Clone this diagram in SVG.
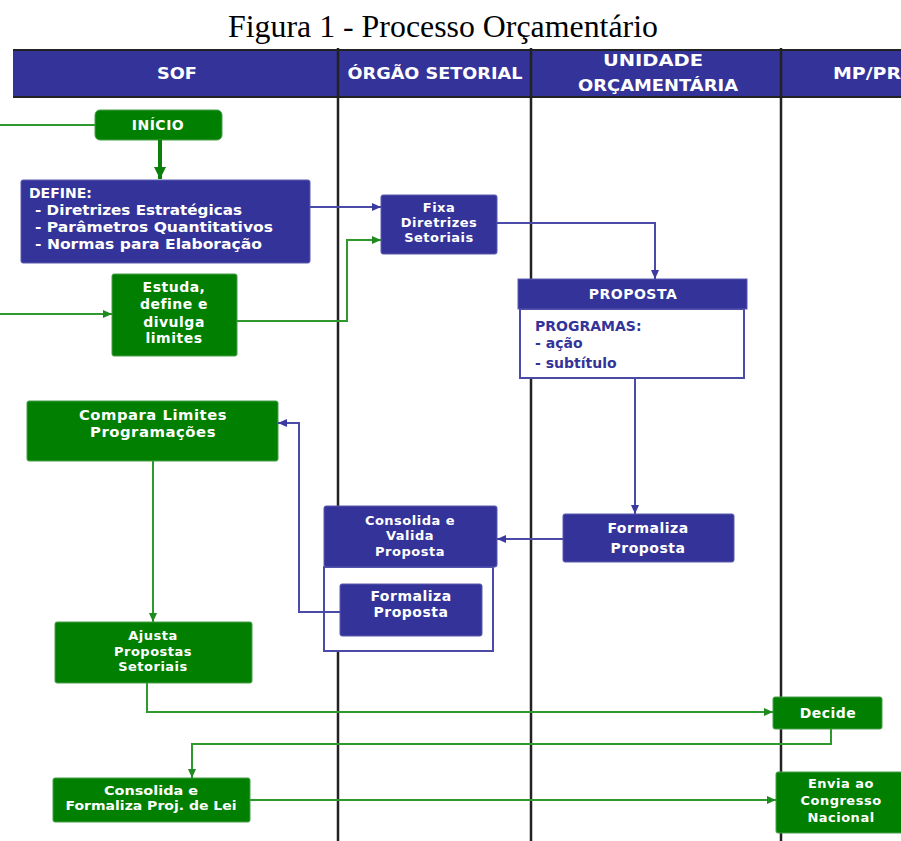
<svg xmlns="http://www.w3.org/2000/svg" width="901" height="841" viewBox="0 0 901 841">
<style>
.title{font-family:"Liberation Serif","Times New Roman",serif;font-size:31px;fill:#000;text-anchor:middle}
.hd{font-family:"DejaVu Sans",Verdana,sans-serif;font-weight:bold;font-size:15px;fill:#fff;text-anchor:middle}
.t{font-family:"DejaVu Sans",Verdana,sans-serif;font-weight:bold;font-size:14px;fill:#fff;text-anchor:middle;letter-spacing:0.5px}
.ts{font-family:"DejaVu Sans",Verdana,sans-serif;font-weight:bold;font-size:13px;fill:#fff;text-anchor:middle;letter-spacing:0.5px}
.tl{font-family:"DejaVu Sans",Verdana,sans-serif;font-weight:bold;font-size:14px;fill:#fff}
.tb{font-family:"DejaVu Sans",Verdana,sans-serif;font-weight:bold;font-size:14px;fill:#333399}
.g{fill:#007f00;stroke:#4aa04a;stroke-width:1}
.b{fill:#333399;stroke:#5b5bb0;stroke-width:1}
.w{fill:#fff;stroke:#4a4aa8;stroke-width:2}
.lane{stroke:#222;stroke-width:2.5}
.cg{fill:none;stroke:#2e9a2e;stroke-width:2}
.cb{fill:none;stroke:#4a4aa8;stroke-width:2}
</style>
<defs>
<marker id="ag" markerUnits="userSpaceOnUse" markerWidth="10" markerHeight="10" refX="9" refY="5" orient="auto"><path d="M0,1 L9,5 L0,9 z" fill="#1f8a1f"/></marker>
<marker id="agb" markerUnits="userSpaceOnUse" markerWidth="14" markerHeight="12" refX="12" refY="6" orient="auto"><path d="M0,0 L12,6 L0,12 z" fill="#0a800a"/></marker>
<marker id="ab" markerUnits="userSpaceOnUse" markerWidth="10" markerHeight="10" refX="9" refY="5" orient="auto"><path d="M0,1 L9,5 L0,9 z" fill="#3a3aa0"/></marker>
</defs>
<rect width="901" height="841" fill="#fff"/>
<text class="title" x="443" y="37" textLength="430" lengthAdjust="spacingAndGlyphs">Figura 1 - Processo Orçamentário</text>

<g id="header">
<rect x="13" y="50" width="888" height="47" fill="#333399"/>
<line x1="13" y1="50" x2="901" y2="50" stroke="#222" stroke-width="2"/>
<line x1="13" y1="97" x2="901" y2="97" stroke="#222" stroke-width="2"/>
<text class="hd" x="177" y="79" textLength="40" lengthAdjust="spacingAndGlyphs">SOF</text>
<text class="hd" x="435" y="79" textLength="175" lengthAdjust="spacingAndGlyphs">ÓRGÃO SETORIAL</text>
<text class="hd" x="653" y="66" textLength="100" lengthAdjust="spacingAndGlyphs">UNIDADE</text>
<text class="hd" x="658" y="91" textLength="160" lengthAdjust="spacingAndGlyphs">ORÇAMENTÁRIA</text>
<text class="hd" x="833" y="79" style="text-anchor:start" textLength="68" lengthAdjust="spacingAndGlyphs">MP/PR</text>
</g>

<g id="lanes">
<line class="lane" x1="338" y1="48" x2="338" y2="841"/>
<line class="lane" x1="531" y1="48" x2="531" y2="841"/>
<line class="lane" x1="781" y1="48" x2="781" y2="841"/>
</g>

<g id="n-inicio">
<rect class="g" x="95" y="110" width="127" height="30" rx="5"/>
<text class="t" x="158" y="130">INÍCIO</text>
</g>

<g id="n-define">
<rect class="b" x="21" y="180" width="289" height="83" rx="2"/>
<text class="tl" x="29" y="198">DEFINE:</text>
<text class="tl" x="35" y="215" textLength="207" lengthAdjust="spacingAndGlyphs">- Diretrizes Estratégicas</text>
<text class="tl" x="35" y="232" textLength="238" lengthAdjust="spacingAndGlyphs">- Parâmetros Quantitativos</text>
<text class="tl" x="35" y="249" textLength="227" lengthAdjust="spacingAndGlyphs">- Normas para Elaboração</text>
</g>

<g id="n-estuda">
<rect class="g" x="112" y="274" width="125" height="82" rx="2"/>
<text class="t" x="174" y="292">Estuda,</text>
<text class="t" x="174" y="309">define e</text>
<text class="t" x="174" y="327">divulga</text>
<text class="t" x="174" y="343">limites</text>
</g>

<g id="n-fixa">
<rect class="b" x="381" y="195" width="116" height="59" rx="2"/>
<text class="ts" x="439" y="212">Fixa</text>
<text class="ts" x="439" y="227">Diretrizes</text>
<text class="ts" x="439" y="242">Setoriais</text>
</g>

<g id="n-proposta">
<rect class="w" x="520" y="309" width="224" height="69"/>
<rect class="b" x="518" y="279" width="229" height="30"/>
<text class="t" x="633" y="299">PROPOSTA</text>
<text class="tb" x="535" y="331">PROGRAMAS:</text>
<text class="tb" x="535" y="348">- ação</text>
<text class="tb" x="535" y="368">- subtítulo</text>
</g>

<g id="n-formaliza-uo">
<rect class="b" x="563" y="514" width="171" height="48" rx="2"/>
<text class="t" x="648" y="533">Formaliza</text>
<text class="t" x="648" y="553">Proposta</text>
</g>

<g id="n-consolida">
<rect class="w" x="324" y="567" width="169" height="84"/>
<rect class="b" x="324" y="506" width="173" height="61" rx="2"/>
<text class="ts" x="410" y="525">Consolida e</text>
<text class="ts" x="410" y="540">Valida</text>
<text class="ts" x="410" y="556">Proposta</text>
</g>

<g id="n-formaliza-os">
<rect class="b" x="340" y="584" width="142" height="52" rx="2"/>
<text class="t" x="411" y="601">Formaliza</text>
<text class="t" x="411" y="617">Proposta</text>
</g>

<g id="n-compara">
<rect class="g" x="27" y="401" width="251" height="60" rx="2"/>
<text class="t" x="153" y="420" textLength="148" lengthAdjust="spacingAndGlyphs">Compara Limites</text>
<text class="t" x="153" y="437" textLength="126" lengthAdjust="spacingAndGlyphs">Programações</text>
</g>

<g id="n-ajusta">
<rect class="g" x="55" y="622" width="197" height="61" rx="2"/>
<text class="ts" x="153" y="640">Ajusta</text>
<text class="ts" x="153" y="656">Propostas</text>
<text class="ts" x="153" y="671">Setoriais</text>
</g>

<g id="n-decide">
<rect class="g" x="773" y="697" width="109" height="32" rx="2"/>
<text class="t" x="828" y="718">Decide</text>
</g>

<g id="n-consolida-lei">
<rect class="g" x="53" y="778" width="197" height="44" rx="2"/>
<text class="t" x="151" y="795" style="font-size:12px;letter-spacing:0" textLength="94" lengthAdjust="spacingAndGlyphs">Consolida e</text>
<text class="t" x="151" y="810" style="font-size:12px;letter-spacing:0" textLength="171" lengthAdjust="spacingAndGlyphs">Formaliza Proj. de Lei</text>
</g>

<g id="n-envia">
<rect class="g" x="776" y="772" width="130" height="61" rx="2"/>
<text class="ts" x="841" y="788">Envia ao</text>
<text class="ts" x="841" y="805">Congresso</text>
<text class="ts" x="841" y="822">Nacional</text>
</g>

<g id="connectors">
<path class="cg" d="M0,125 H95"/>
<path d="M160,140 V179" fill="none" stroke="#0a800a" stroke-width="4" marker-end="url(#agb)"/>
<path class="cg" d="M0,314 H112" marker-end="url(#ag)"/>
<path class="cb" d="M310,207 H381" marker-end="url(#ab)"/>
<path class="cg" d="M237,321 H347 V240 H381" marker-end="url(#ag)"/>
<path class="cb" d="M497,223 H655 V279" marker-end="url(#ab)"/>
<path class="cb" d="M635,378 V514" marker-end="url(#ab)"/>
<path class="cb" d="M563,539 H497" stroke-width="3" marker-end="url(#ab)"/>
<path class="cb" d="M340,612 H299 V423 H278" marker-end="url(#ab)"/>
<path class="cg" d="M153,461 V622" marker-end="url(#ag)"/>
<path class="cg" d="M147,683 V712 H773" marker-end="url(#ag)"/>
<path class="cg" d="M831,729 V744 H192 V778" marker-end="url(#ag)"/>
<path class="cg" d="M250,800 H776" marker-end="url(#ag)"/>
</g>
</svg>
